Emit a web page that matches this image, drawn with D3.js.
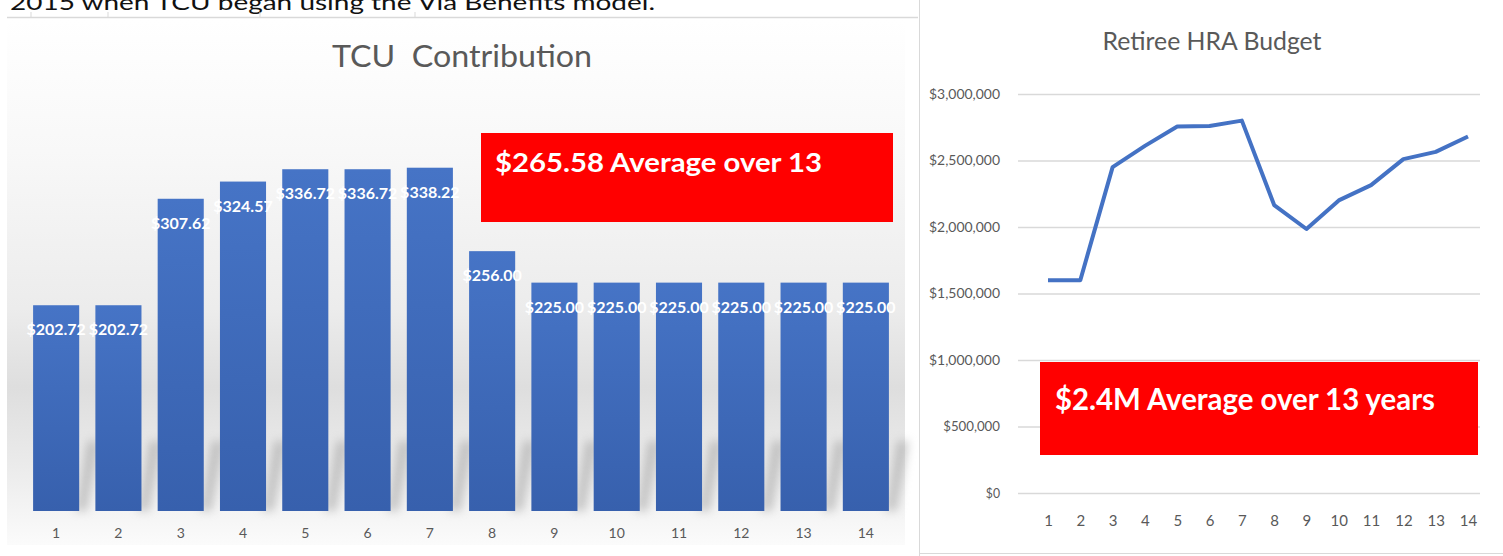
<!DOCTYPE html>
<html>
<head>
<meta charset="utf-8">
<script src="https://cdn.jsdelivr.net/npm/d3@7"></script>
<style>
  body { margin: 0; background: #fff; }
  svg { display: block; }
</style>
</head>
<body>
<svg id="chart" width="1503" height="556"></svg>
<script>
// TCU contribution per year (bar chart)
var tcuYears = [1, 2, 3, 4, 5, 6, 7, 8, 9, 10, 11, 12, 13, 14];
var tcuValues = [202.72, 202.72, 307.62, 324.57, 336.72, 336.72, 338.22, 256.00, 225.00, 225.00, 225.00, 225.00, 225.00, 225.00];
var tcuTitle = "TCU  Contribution";
var tcuNote = "$265.58 Average over 13";

// Retiree HRA budget (line chart)
var hraYears = [1, 2, 3, 4, 5, 6, 7, 8, 9, 10, 11, 12, 13, 14];
var hraValues = [1600000, 1600000, 2450000, 2610000, 2755000, 2760000, 2800000, 2165000, 1985000, 2200000, 2315000, 2510000, 2565000, 2680000];
var hraTicks = [0, 500000, 1000000, 1500000, 2000000, 2500000, 3000000];
var hraTitle = "Retiree HRA Budget";
var hraNote = "$2.4M Average over 13 years";

var headText = "2015 when TCU began using the Via Benefits model.";

var svg = d3.select("#chart");
var defs = svg.append("defs");

// background gradient of left chart
var bg = defs.append("linearGradient").attr("id", "bgGrad").attr("x1", 0).attr("y1", 0).attr("x2", 0).attr("y2", 1);
[[0, "#ffffff"], [0.25, "#f8f8f8"], [0.55, "#ececec"], [0.7, "#dedede"], [0.85, "#ebebeb"], [1, "#fbfbfb"]].forEach(function (s) {
  bg.append("stop").attr("offset", s[0]).attr("stop-color", s[1]);
});
var barGrad = defs.append("linearGradient").attr("id", "barGrad").attr("x1", 0).attr("y1", 0).attr("x2", 0).attr("y2", 1);
barGrad.append("stop").attr("offset", 0).attr("stop-color", "#4674c6");
barGrad.append("stop").attr("offset", 1).attr("stop-color", "#3760ad");
defs.append("filter").attr("id", "blur").attr("x", "-50%").attr("y", "-50%").attr("width", "200%").attr("height", "200%")
  .append("feGaussianBlur").attr("stdDeviation", 5);

// page header text (cut at the top, as in the source screenshot)
svg.append("text")
  .attr("x", 10).attr("y", 10)
  .attr("font-family", "Lato, 'Open Sans', sans-serif")
  .attr("font-size", "22px")
  .attr("fill", "#111")
  .attr("textLength", 645).attr("lengthAdjust", "spacingAndGlyphs")
  .text(headText);

// ruler line under header
svg.append("line").attr("x1", 7).attr("x2", 918).attr("y1", 17.5).attr("y2", 17.5)
  .attr("stroke", "#d9d9d9").attr("stroke-width", 1.5);
[31, 108, 260, 415].forEach(function (x) {
  svg.append("line").attr("x1", x).attr("x2", x).attr("y1", 12).attr("y2", 17).attr("stroke", "#d9d9d9");
});

// ---------- Left chart ----------
var left = svg.append("g");
left.append("rect").attr("x", 7).attr("y", 20).attr("width", 898).attr("height", 525).attr("fill", "url(#bgGrad)");

var x = d3.scaleBand().domain(tcuYears).range([25, 897]).paddingInner(0.26).paddingOuter(0.13);
var y = d3.scaleLinear().domain([0, 400]).range([511, 105]);

left.append("text")
  .attr("x", 462).attr("y", 67)
  .attr("text-anchor", "middle")
  .attr("font-family", "Lato, 'Open Sans', sans-serif")
  .attr("font-size", "30px")
  .attr("fill", "#595959")
  .style("white-space", "pre")
  .attr("textLength", 260).attr("lengthAdjust", "spacingAndGlyphs")
  .text(tcuTitle);

// reflection shadows
left.append("g").selectAll("path")
  .data(tcuYears)
  .enter().append("path")
  .attr("d", function (d) {
    var x0 = x(d) + x.bandwidth(), b = y(0);
    return "M" + (x0 - 4) + "," + b + "L" + (x0 + 8) + "," + b + "L" + (x0 + 20) + "," + (b - 70) + "L" + (x0 + 8) + "," + (b - 70) + "Z";
  })
  .attr("fill", "#9a9a9a")
  .attr("opacity", 0.5)
  .attr("filter", "url(#blur)");

left.append("g").selectAll("rect")
  .data(tcuValues)
  .enter().append("rect")
  .attr("x", function (d, i) { return x(tcuYears[i]); })
  .attr("y", function (d) { return y(d); })
  .attr("width", x.bandwidth())
  .attr("height", function (d) { return y(0) - y(d); })
  .attr("fill", "url(#barGrad)");

left.append("g").selectAll("text")
  .data(tcuValues)
  .enter().append("text")
  .attr("x", function (d, i) { return x(tcuYears[i]) + x.bandwidth() / 2; })
  .attr("y", function (d) { return y(d) + 30; })
  .attr("text-anchor", "middle")
  .attr("font-family", "Lato, 'Open Sans', sans-serif")
  .attr("font-weight", "bold")
  .attr("font-size", "16px")
  .attr("fill", "#ffffff")
  .text(function (d) { return "$" + d.toFixed(2); });

var xAxis = left.append("g")
  .attr("transform", "translate(0," + y(0) + ")")
  .call(d3.axisBottom(x).tickSize(0).tickPadding(17));
xAxis.select(".domain").remove();
xAxis.selectAll("text")
  .attr("font-family", "Lato, 'Open Sans', sans-serif")
  .attr("font-size", "14px")
  .attr("fill", "#595959");

left.append("rect").attr("x", 481).attr("y", 133).attr("width", 412).attr("height", 89).attr("fill", "#ff0000");
left.append("text")
  .attr("x", 495).attr("y", 172)
  .attr("font-family", "Lato, 'Open Sans', sans-serif")
  .attr("font-weight", "bold")
  .attr("font-size", "27px")
  .attr("fill", "#ffffff")
  .attr("textLength", 327).attr("lengthAdjust", "spacingAndGlyphs")
  .text(tcuNote);

// ---------- Right chart ----------
var right = svg.append("g");
right.append("line").attr("x1", 919.5).attr("x2", 919.5).attr("y1", 0).attr("y2", 556).attr("stroke", "#d9d9d9");
right.append("line").attr("x1", 919).attr("x2", 1503).attr("y1", 553.5).attr("y2", 553.5).attr("stroke", "#d9d9d9");

var x2 = d3.scalePoint().domain(hraYears).range([1048, 1468]);
var y2 = d3.scaleLinear().domain([0, 3000000]).range([493, 94]);

right.append("text")
  .attr("x", 1212).attr("y", 50)
  .attr("text-anchor", "middle")
  .attr("font-family", "Lato, 'Open Sans', sans-serif")
  .attr("font-size", "25px")
  .attr("fill", "#595959")
  .attr("textLength", 219).attr("lengthAdjust", "spacingAndGlyphs")
  .text(hraTitle);

var yAxis2 = right.append("g")
  .attr("transform", "translate(1018,0)")
  .call(d3.axisLeft(y2).tickValues(hraTicks).tickFormat(d3.format("$,")).tickSize(-462).tickPadding(18));
yAxis2.select(".domain").remove();
yAxis2.selectAll(".tick line").attr("stroke", "#d9d9d9").attr("stroke-width", 1.5);
yAxis2.selectAll("text")
  .attr("font-family", "Lato, 'Open Sans', sans-serif")
  .attr("font-size", "14px")
  .attr("fill", "#595959")
  .attr("textLength", function () { return this.textContent.length * 7.1; })
  .attr("lengthAdjust", "spacingAndGlyphs");

var xAxis2 = right.append("g")
  .attr("transform", "translate(0," + y2(0) + ")")
  .call(d3.axisBottom(x2).tickSize(0).tickPadding(22));
xAxis2.select(".domain").remove();
xAxis2.selectAll("text")
  .attr("font-family", "Lato, 'Open Sans', sans-serif")
  .attr("font-size", "15px")
  .attr("fill", "#595959");

right.append("path")
  .datum(hraValues)
  .attr("fill", "none")
  .attr("stroke", "#4472c4")
  .attr("stroke-width", 4)
  .attr("stroke-linejoin", "round")
  .attr("d", d3.line().x(function (d, i) { return x2(hraYears[i]); }).y(function (d) { return y2(d); }));

right.append("rect").attr("x", 1040).attr("y", 362).attr("width", 438).attr("height", 93).attr("fill", "#ff0000");
right.append("text")
  .attr("x", 1055).attr("y", 410)
  .attr("font-family", "Lato, 'Open Sans', sans-serif")
  .attr("font-weight", "bold")
  .attr("font-size", "31px")
  .attr("fill", "#ffffff")
  .attr("textLength", 380).attr("lengthAdjust", "spacingAndGlyphs")
  .text(hraNote);
</script>
</body>
</html>
